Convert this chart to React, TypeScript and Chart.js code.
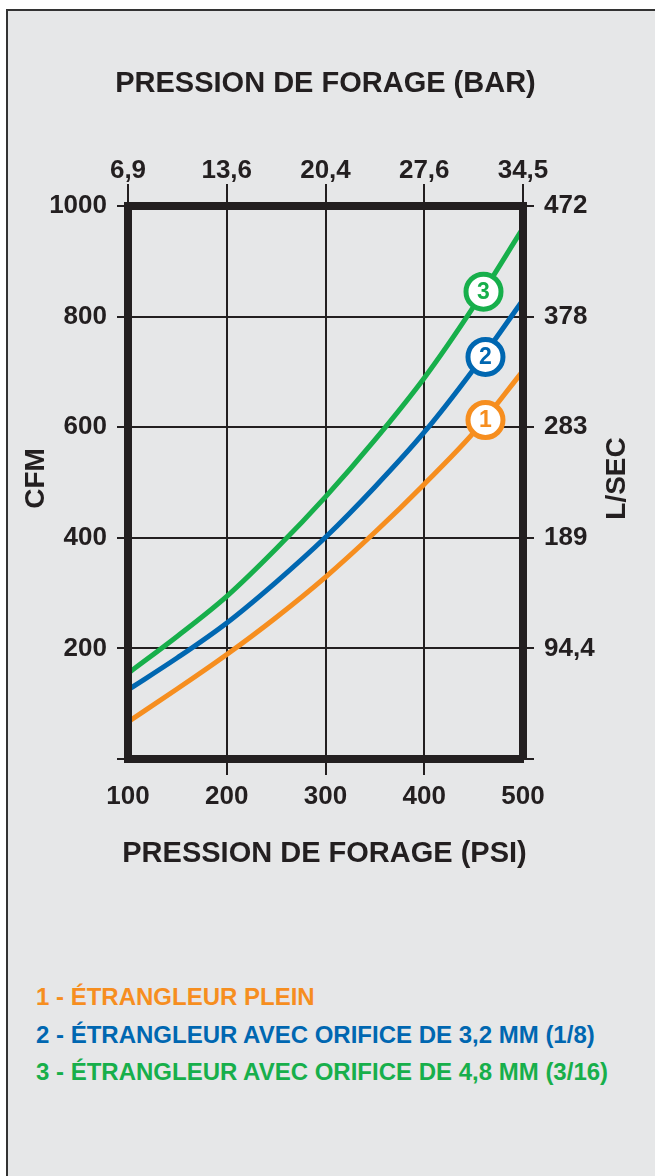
import React, { useEffect, useRef } from "react";
import { Chart, registerables } from "chart.js";

Chart.register(...registerables);

// ---- data ----
const PSI = [100, 150, 200, 250, 300, 350, 400, 450, 500];
const CFM_PLEIN = [67, 127, 189, 256, 329, 410, 497, 590, 702];
const CFM_ORIFICE_32 = [125, 183, 246, 320, 401, 492, 591, 705, 830];
const CFM_ORIFICE_48 = [155, 222, 294, 380, 474, 577, 689, 818, 960];

const SERIES_NAMES = [
  "1 - ÉTRANGLEUR PLEIN",
  "2 - ÉTRANGLEUR AVEC ORIFICE DE 3,2 MM (1/8)",
  "3 - ÉTRANGLEUR AVEC ORIFICE DE 4,8 MM (3/16)",
];
const SERIES_COLORS = ["#f68e1f", "#0067b1", "#17af4b"];

const MARKER_TEXT = ["1", "2", "3"];
const MARKER_PSI = [462, 462, 460];
const MARKER_CFM = [613, 727, 845];

const BAR_LABELS = ["6,9", "13,6", "20,4", "27,6", "34,5"];
const LSEC_LABELS = ["", "94,4", "189", "283", "378", "472"];

const TITLE_TOP = "PRESSION DE FORAGE (BAR)";
const TITLE_BOTTOM = "PRESSION DE FORAGE (PSI)";
const TITLE_LEFT = "CFM";
const TITLE_RIGHT = "L/SEC";

const FONT = '"Liberation Sans", Arial, Helvetica, sans-serif';
const INK = "#231f20";

export default function App() {
  const ref = useRef<HTMLCanvasElement>(null);

  useEffect(() => {
    if (!ref.current) return;
    Chart.defaults.font.family = FONT;

    const tickFont = { size: 26, weight: "bold" as const, lineHeight: 1 };

    const series = [CFM_PLEIN, CFM_ORIFICE_32, CFM_ORIFICE_48];
    const lineSets = series.map((vals, i) => ({
      type: "line" as const,
      label: SERIES_NAMES[i],
      data: PSI.map((x, k) => ({ x, y: vals[k] })),
      borderColor: SERIES_COLORS[i],
      backgroundColor: SERIES_COLORS[i],
      borderWidth: 5,
      pointRadius: 0,
      pointHoverRadius: 0,
      cubicInterpolationMode: "monotone" as const,
      fill: false,
      clip: -4,
      order: 1,
      xAxisID: "x",
      yAxisID: "y",
    }));
    const markerSets = MARKER_TEXT.map((t, i) => ({
      type: "line" as const,
      label: "m" + t,
      markerText: t,
      data: [{ x: MARKER_PSI[i], y: MARKER_CFM[i] }],
      showLine: false,
      borderColor: SERIES_COLORS[i],
      pointRadius: 17.5,
      pointHoverRadius: 17.5,
      pointBackgroundColor: "#ffffff",
      pointBorderColor: SERIES_COLORS[i],
      pointBorderWidth: 5,
      pointHoverBorderWidth: 5,
      clip: false,
      order: 0,
      xAxisID: "x",
      yAxisID: "y",
    }));

    const drawText = (ctx: any, text: string, x: number, y: number, size: number, rotate: boolean) => {
      ctx.save();
      ctx.translate(x, y);
      if (rotate) ctx.rotate(-Math.PI / 2);
      ctx.font = `bold ${size}px ${FONT}`;
      ctx.fillStyle = INK;
      ctx.textAlign = "center";
      ctx.textBaseline = "middle";
      ctx.fillText(text, 0, 0);
      ctx.restore();
    };

    const textPlugin = {
      id: "extraText",
      afterDatasetsDraw(chart: any) {
        const ctx = chart.ctx;
        chart.data.datasets.forEach((ds: any, i: number) => {
          if (!ds.markerText) return;
          const pt = chart.getDatasetMeta(i).data[0];
          if (!pt) return;
          ctx.save();
          ctx.font = `bold 23px ${FONT}`;
          ctx.fillStyle = ds.borderColor;
          ctx.textAlign = "center";
          ctx.textBaseline = "middle";
          ctx.fillText(ds.markerText, pt.x, pt.y + 0.5);
          ctx.restore();
        });
      },
      afterDraw(chart: any) {
        const { ctx, chartArea } = chart;
        const midY = (chartArea.top + chartArea.bottom) / 2 - 4;
        const midX = (chartArea.left + chartArea.right) / 2;
        drawText(ctx, TITLE_LEFT, chart.scales.y.left + 28, midY, 28, true);
        drawText(ctx, TITLE_RIGHT, chart.scales.y2.right - 38, midY, 28, true);
        drawText(ctx, TITLE_TOP, midX, chart.scales.x2.top + 73, 29, false);
        drawText(ctx, TITLE_BOTTOM, midX - 1, chart.scales.x.bottom - 47, 29, false);
      },
    };

    const chart = new Chart(ref.current, {
      type: "line",
      data: { datasets: [...markerSets, ...lineSets] as any },
      options: {
        animation: false,
        responsive: false,
        maintainAspectRatio: false,
        layout: { padding: 0 },
        events: [],
        plugins: {
          legend: { display: false },
          tooltip: { enabled: false },
          title: { display: false },
        },
        scales: {
          x: {
            type: "linear",
            position: "bottom",
            min: 100,
            max: 500,
            afterFit: (s: any) => {
              s.height = 142;
            },
            ticks: {
              stepSize: 100,
              color: INK,
              padding: 9,
              font: tickFont,
              maxRotation: 0,
              autoSkip: false,
            },
            grid: {
              color: INK,
              lineWidth: 2,
              tickLength: 16,
              tickColor: (c: any) =>
                c.tick && (c.tick.value === 100 || c.tick.value === 500) ? "rgba(0,0,0,0)" : INK,
            },
            border: { display: true, color: INK, width: 8 },
          },
          x2: {
            type: "linear",
            position: "top",
            min: 100,
            max: 500,
            afterFit: (s: any) => {
              s.height = 195;
            },
            ticks: {
              stepSize: 100,
              color: INK,
              padding: 0,
              font: tickFont,
              maxRotation: 0,
              autoSkip: false,
              callback: (v: any) => BAR_LABELS[Math.round((Number(v) - 100) / 100)] ?? "",
            },
            grid: { drawOnChartArea: false, color: INK, lineWidth: 2, tickLength: 22 },
            border: { display: true, color: INK, width: 8 },
          },
          y: {
            type: "linear",
            position: "left",
            min: 0,
            max: 1000,
            afterFit: (s: any) => {
              s.width = 120;
            },
            ticks: {
              stepSize: 200,
              color: INK,
              padding: 10,
              font: tickFont,
              autoSkip: false,
              callback: (v: any) => (Number(v) === 0 ? "" : String(v)),
            },
            grid: { color: INK, lineWidth: 2, tickLength: 11 },
            border: { display: true, color: INK, width: 8 },
          },
          y2: {
            type: "linear",
            position: "right",
            min: 0,
            max: 1000,
            afterFit: (s: any) => {
              s.width = 132;
            },
            ticks: {
              stepSize: 200,
              color: INK,
              padding: 10,
              font: tickFont,
              autoSkip: false,
              callback: (v: any) => LSEC_LABELS[Math.round(Number(v) / 200)] ?? "",
            },
            grid: { drawOnChartArea: false, color: INK, lineWidth: 2, tickLength: 11 },
            border: { display: true, color: INK, width: 8 },
          },
        },
      } as any,
      plugins: [textPlugin],
    });

    return () => chart.destroy();
  }, []);

  return (
    <div
      style={{
        position: "absolute",
        left: 6,
        top: 9,
        width: 647,
        height: 1165,
        background: "#e6e7e8",
        borderLeft: "2px solid #333333",
        borderTop: "2px solid #333333",
        overflow: "hidden",
      }}
    >
      <canvas
        ref={ref}
        width={647}
        height={890}
        style={{ position: "absolute", left: 0, top: 0, width: 647, height: 890 }}
      />
      <div
        style={{
          position: "absolute",
          left: 28,
          top: 967,
          fontFamily: FONT,
          fontWeight: "bold",
          fontSize: 24,
          lineHeight: "37.5px",
        }}
      >
        {SERIES_NAMES.map((n, i) => (
          <div key={i} style={{ color: SERIES_COLORS[i], whiteSpace: "nowrap" }}>
            {n}
          </div>
        ))}
      </div>
    </div>
  );
}
